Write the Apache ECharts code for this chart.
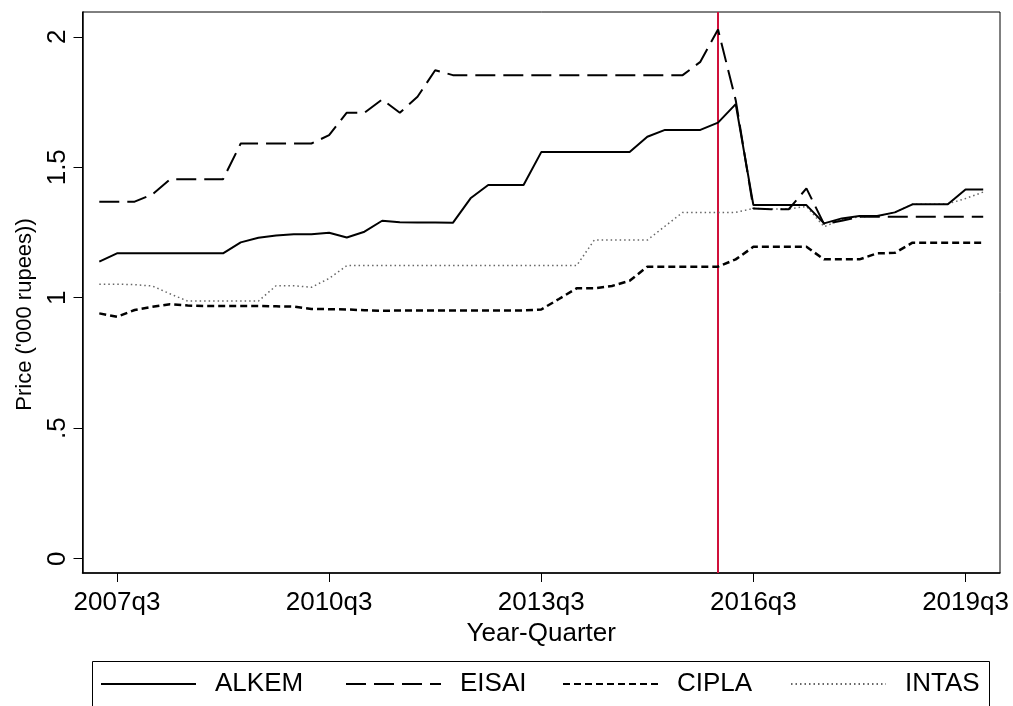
<!DOCTYPE html>
<html><head><meta charset="utf-8">
<script src="https://cdn.jsdelivr.net/npm/echarts@6/dist/echarts.min.js"></script>
<style>html,body{margin:0;padding:0;background:#fff}#c{width:1013px;height:706px}</style>
</head><body><div id="c"></div>
<script>
const quarters = ['2007q2','2007q3','2007q4','2008q1','2008q2','2008q3','2008q4','2009q1','2009q2','2009q3','2009q4',
 '2010q1','2010q2','2010q3','2010q4','2011q1','2011q2','2011q3','2011q4','2012q1','2012q2','2012q3','2012q4',
 '2013q1','2013q2','2013q3','2013q4','2014q1','2014q2','2014q3','2014q4','2015q1','2015q2','2015q3','2015q4',
 '2016q1','2016q2','2016q3','2016q4','2017q1','2017q2','2017q3','2017q4','2018q1','2018q2','2018q3','2018q4',
 '2019q1','2019q2','2019q3','2019q4'];
const tickQuarters = ['2007q3','2010q3','2013q3','2016q3','2019q3'];
const yTicks = [0, 0.5, 1, 1.5, 2];
const yTickLabels = ['0', '.5', '1', '1.5', '2'];
const policyQuarter = '2016q1';
const seriesNames = ['ALKEM', 'EISAI', 'CIPLA', 'INTAS'];

const alkem = [1.138,1.170,1.170,1.170,1.170,1.170,1.170,1.170,1.212,1.230,1.238,1.243,1.243,1.249,1.231,1.253,1.295,1.289,1.288,1.288,1.287,1.381,1.432,1.432,1.432,1.558,1.558,1.558,1.558,1.558,1.558,1.617,1.643,1.643,1.643,1.671,1.742,1.355,1.355,1.355,1.355,1.285,1.304,1.313,1.313,1.327,1.358,1.358,1.358,1.415,1.415];
const eisai = [1.368,1.368,1.368,1.396,1.454,1.454,1.454,1.454,1.591,1.591,1.591,1.591,1.591,1.623,1.709,1.709,1.760,1.709,1.770,1.872,1.853,1.853,1.853,1.853,1.853,1.853,1.853,1.853,1.853,1.853,1.853,1.853,1.853,1.853,1.904,2.028,1.757,1.342,1.339,1.339,1.419,1.282,1.295,1.310,1.310,1.310,1.310,1.310,1.310,1.310,1.310];
const cipla = [0.940,0.927,0.953,0.965,0.975,0.970,0.968,0.968,0.968,0.968,0.967,0.966,0.957,0.956,0.955,0.952,0.950,0.951,0.951,0.951,0.951,0.951,0.951,0.951,0.951,0.955,0.995,1.036,1.036,1.045,1.065,1.119,1.119,1.119,1.119,1.119,1.147,1.195,1.195,1.195,1.195,1.147,1.147,1.147,1.170,1.172,1.211,1.211,1.211,1.211,1.211];
const intas = [1.052,1.052,1.050,1.045,1.015,0.987,0.987,0.987,0.987,0.987,1.046,1.046,1.040,1.074,1.123,1.123,1.123,1.123,1.123,1.123,1.123,1.123,1.123,1.123,1.123,1.123,1.123,1.123,1.221,1.221,1.221,1.221,1.274,1.327,1.327,1.327,1.327,1.342,1.340,1.340,1.350,1.272,1.300,1.310,1.313,1.327,1.358,1.358,1.360,1.380,1.405];

const FONT = "'Liberation Sans', Arial, Helvetica, sans-serif";
const pairs = arr => arr.map((v, i) => [i, v]);

const styles = [
  {color: '#000', width: 2, type: 'solid'},
  {color: '#000', width: 2, type: [20, 8]},
  {color: '#000', width: 2.5, type: [7, 4]},
  {color: '#666', width: 1.5, type: [1.5, 3]}
];
const values = [alkem, eisai, cipla, intas];
const legendLeft = [100, 345, 562, 790];

const series = seriesNames.map((n, k) => ({
  name: n, type: 'line', data: pairs(values[k]), symbol: 'none', showSymbol: false,
  lineStyle: styles[k], itemStyle: {color: styles[k].color}, z: 10 - k,
  emphasis: {disabled: true}
}));
series[0].markLine = {
  silent: true, symbol: ['none', 'none'], label: {show: false}, animation: false,
  lineStyle: {color: '#D0103A', width: 2, type: 'solid'},
  data: [{xAxis: quarters.indexOf(policyQuarter)}]
};

const chart = echarts.init(document.getElementById('c'));
chart.setOption({
  animation: false,
  backgroundColor: '#fff',
  grid: {left: 82.5, right: 13, top: 12, bottom: 133, show: true, borderColor: '#000', borderWidth: 1, containLabel: false},
  xAxis: {
    type: 'value', min: -0.95, max: 50.95,
    axisLine: {show: true, onZero: false, lineStyle: {color: '#000', width: 1.5}},
    axisTick: {show: true, length: 9, lineStyle: {color: '#000', width: 1}, customValues: tickQuarters.map(q => quarters.indexOf(q))},
    axisLabel: {show: true, customValues: tickQuarters.map(q => quarters.indexOf(q)), formatter: v => quarters[Math.round(v)], fontSize: 26, color: '#000', fontFamily: FONT, margin: 17},
    splitLine: {show: false},
    name: 'Year-Quarter', nameLocation: 'middle', nameGap: 48,
    nameTextStyle: {fontSize: 26, color: '#000', fontFamily: FONT}
  },
  yAxis: {
    type: 'value', min: -0.055, max: 2.095,
    axisLine: {show: true, onZero: false, lineStyle: {color: '#000', width: 1.5}},
    axisTick: {show: true, length: 9, lineStyle: {color: '#000', width: 1}, customValues: yTicks},
    axisLabel: {show: true, customValues: yTicks, rotate: 90, margin: 12, fontSize: 26, color: '#000', fontFamily: FONT,
      formatter: v => { let b = 0; yTicks.forEach((t, i) => { if (Math.abs(t - v) < Math.abs(yTicks[b] - v)) b = i; }); return yTickLabels[b]; }},
    splitLine: {show: false},
    name: "Price ('000 rupees))", nameLocation: 'middle', nameGap: 47,
    nameTextStyle: {fontSize: 22, color: '#000', fontFamily: FONT, padding: [0, 44, 0, 0]}
  },
  legend: seriesNames.map((n, k) => ({
    data: [n], left: legendLeft[k], top: 671, itemWidth: 95, itemHeight: 28, padding: 0,
    selectedMode: false, itemStyle: {opacity: 0},
    textStyle: {fontSize: 26, color: '#000', fontFamily: FONT, padding: [0, 0, 0, 14]}
  })),
  graphic: [{
    type: 'rect', silent: true,
    shape: {x: 92.5, y: 661.5, width: 897, height: 60},
    style: {fill: 'none', stroke: '#000', lineWidth: 1}
  }],
  series: series
});
</script></body></html>
